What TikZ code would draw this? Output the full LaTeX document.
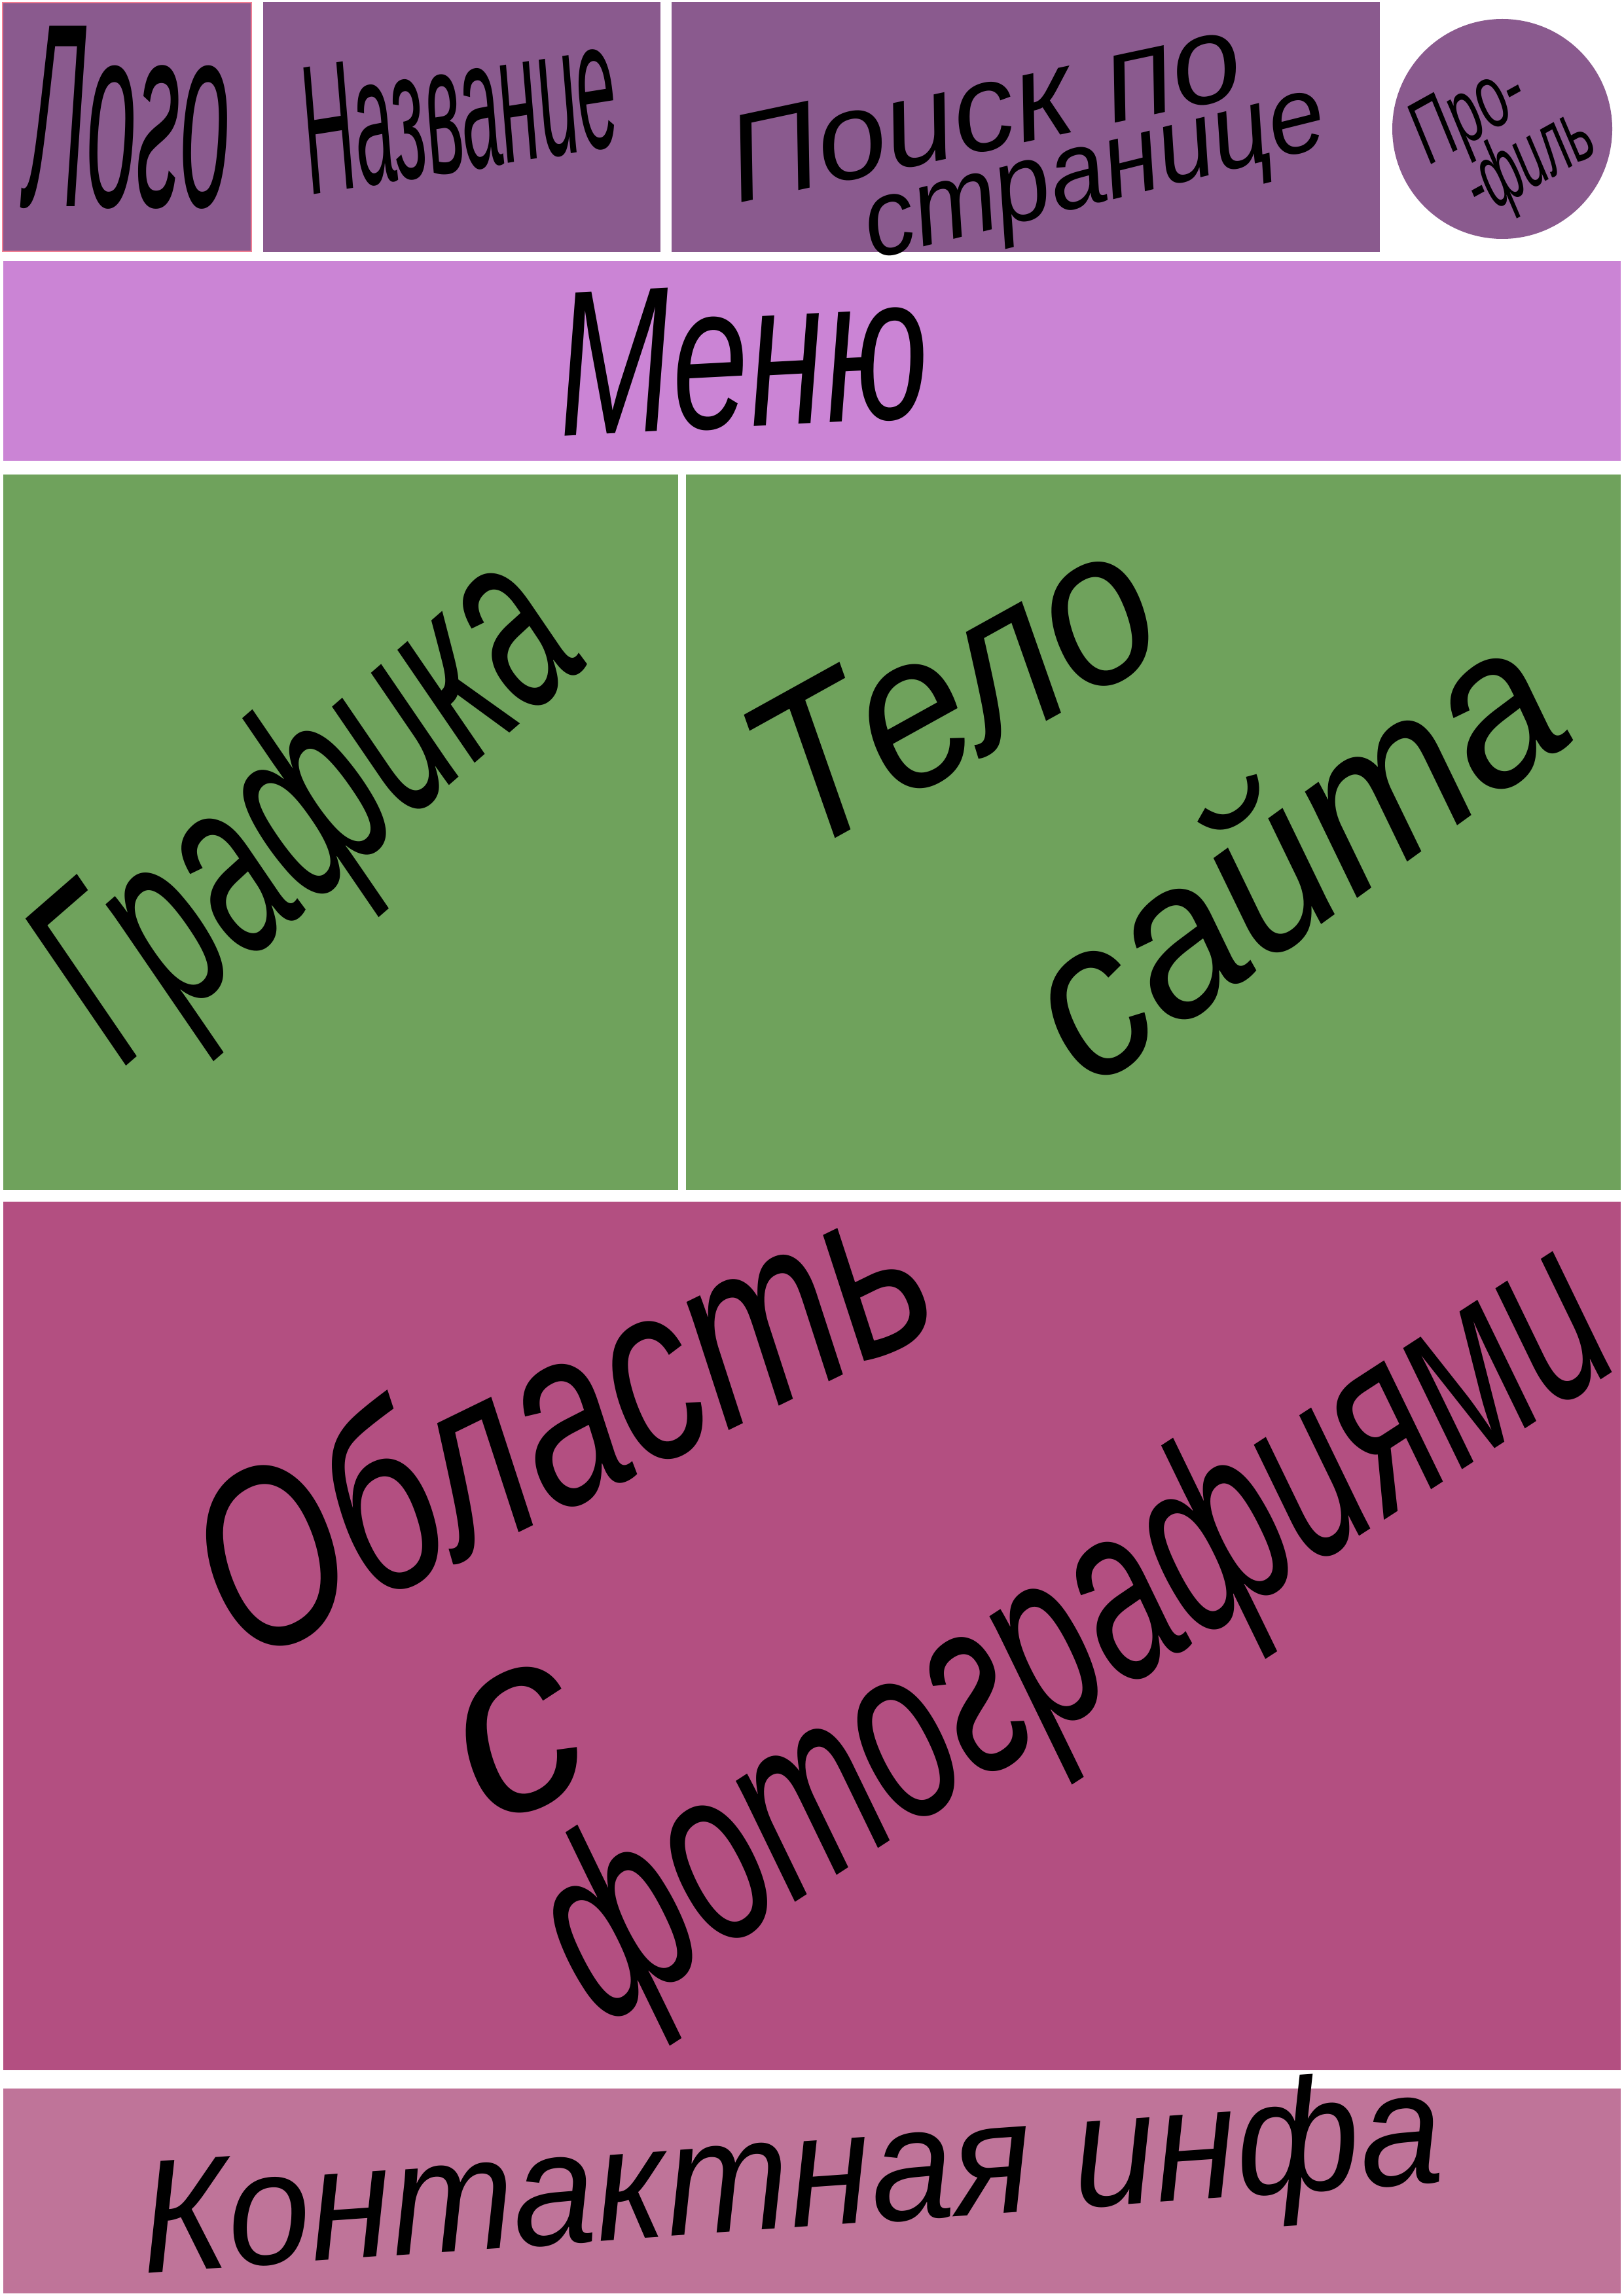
\documentclass[tikz,border=0pt]{standalone}
\usepackage{fontspec}
\setmainfont{Liberation Sans}
\newfontfamily\handfont{Liberation Sans}
\newcommand{\handsz}[1]{\fontsize{#1}{#1}\selectfont}

\definecolor{headpurple}{RGB}{138,90,142}
\definecolor{menulilac}{RGB}{203,132,213}
\definecolor{bodygreen}{RGB}{111,162,92}
\definecolor{photopink}{RGB}{179,79,129}
\definecolor{contactpink}{RGB}{191,116,153}
\definecolor{logoline}{RGB}{240,125,145}

\tikzset{
  hand/.style={font={\handfont\itshape\handsz{#1}}, text=black, inner sep=0pt},
}

\begin{document}
\begin{tikzpicture}[x=1cm, y=1cm]
        \useasboundingbox (0,0) rectangle (24.8,-35.08);
        \fill[white] (0,0) rectangle (24.8,-35.08);

        % Header
        \fill[headpurple, draw=logoline, line width=0.6pt] (0.04,-0.04) rectangle (3.84,-3.84);
        \fill[headpurple] (4.02,-0.03) rectangle (10.09,-3.85);
        \fill[headpurple] (10.26,-0.03) rectangle (21.08,-3.85);
        \fill[headpurple] (22.95,-1.97) circle (1.68);

        % Menu
        \fill[menulilac] (0.05,-3.99) rectangle (24.76,-7.04);

        % Green row
        \fill[bodygreen] (0.05,-7.25) rectangle (10.36,-18.18);
        \fill[bodygreen] (10.48,-7.25) rectangle (24.76,-18.18);

        % Photos
        \fill[photopink] (0.05,-18.36) rectangle (24.76,-31.63);

        % Contacts
        \fill[contactpink] (0.05,-31.91) rectangle (24.76,-35.04);

        % Labels
        \node[hand=60, xscale=0.65, yscale=1.9] (logo) at (1.95,-1.80) {Лого};
        \node[hand=50, rotate=9, xscale=0.62, yscale=1.6] (title) at (7.00,-1.65) {Название};
        \node[hand=54, rotate=12, xscale=1.0, yscale=1.0] (search1) at (15.03,-1.65) {Поиск по};
        \node[hand=50, rotate=14, xscale=0.88, yscale=0.95] (search2) at (16.77,-2.82) {странице};
        \node[hand=26, rotate=29, xscale=0.9, yscale=1.5] (prof1) at (22.47,-1.80) {Про-};
        \node[hand=26, rotate=29, xscale=0.8, yscale=1.5] (prof2) at (23.37,-2.50) {-филь};
        \node[hand=60, rotate=3, xscale=1.0, yscale=1.5] (menu) at (11.34,-5.45) {Меню};
        \node[hand=86, rotate=41, xscale=0.78, yscale=1.3] (graph) at (4.80,-12.45) {Графика};
        \node[hand=80, rotate=29, xscale=1.05, yscale=1.2] (body1) at (14.54,-10.51) {Тело};
        \node[hand=80, rotate=36, xscale=1.1, yscale=1.2] (body2) at (19.68,-12.97) {сайта};
        \node[hand=110, rotate=26, xscale=0.72] (photo1) at (8.50,-21.58) {Область};
        \node[hand=110, rotate=25] (photo2) at (7.94,-26.61) {с};
        \node[hand=110, rotate=33, xscale=0.64] (photo3) at (16.50,-25.05) {фотографиями};
        \node[hand=70, rotate=4, xscale=0.92, yscale=1.0] (contact) at (12.10,-33.40) {Контактная инфа};
\end{tikzpicture}
\end{document}
